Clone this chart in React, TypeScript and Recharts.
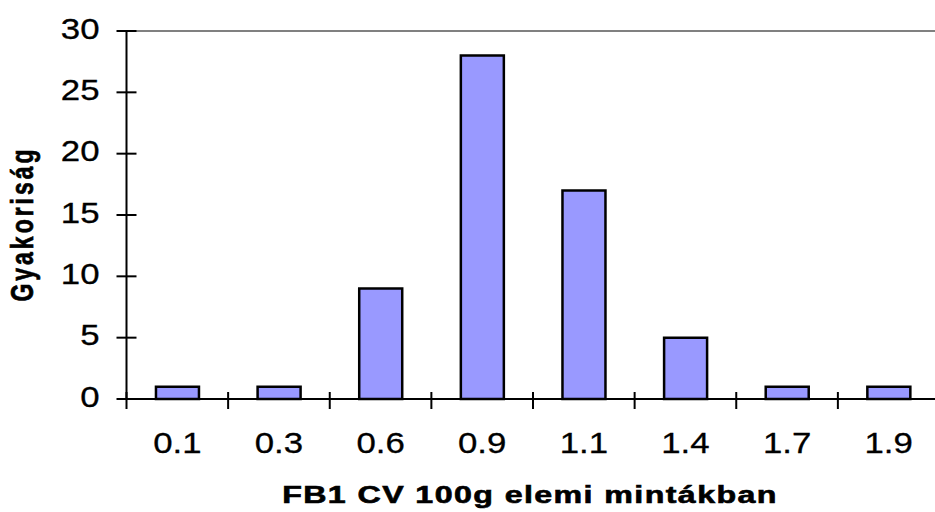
import React from "react";
import { BarChart, Bar, XAxis, YAxis, ReferenceLine } from "recharts";

const categories = ["0.1", "0.3", "0.6", "0.9", "1.1", "1.4", "1.7", "1.9"];
const frequencies = [1, 1, 9, 28, 17, 5, 1, 1];
const yTicks = [0, 5, 10, 15, 20, 25, 30];
const xTitle = "FB1 CV 100g elemi mintákban";
const yTitle = "Gyakoriság";

const data = categories.map((c, i) => ({ cat: c, freq: frequencies[i] }));

const FONT = "'Liberation Sans', Arial, sans-serif";

const YTick = (props: any) => {
  const { x, y, payload } = props;
  return (
    <g>
      <line x1={x - 10} x2={x + 10} y1={y} y2={y} stroke="#000" strokeWidth={2} />
      <text transform={`translate(${x - 27} ${y + 7.5}) scale(1.2 1)`} x={0} y={0} textAnchor="end" fontFamily={FONT} fontSize={29} fill="#000" stroke="#000" strokeWidth={0.3}>
        {payload.value}
      </text>
    </g>
  );
};

const XTick = (props: any) => {
  const { x, y, payload, index, visibleTicksCount } = props;
  const off = payload.offset ?? 50.8;
  const last = index === (visibleTicksCount ?? categories.length) - 1;
  return (
    <g>
      <line x1={x - off} x2={x - off} y1={y - 7} y2={y + 10} stroke="#000" strokeWidth={2} />
      {last && <line x1={x + off} x2={x + off} y1={y - 7} y2={y + 10} stroke="#000" strokeWidth={2} />}
      <text transform={`translate(${x} ${y + 53.7}) scale(1.2 1)`} x={0} y={0} textAnchor="middle" fontFamily={FONT} fontSize={29} fill="#000" stroke="#000" strokeWidth={0.3}>
        {payload.value}
      </text>
    </g>
  );
};

const XLabel = (props: any) => {
  const vb = props.viewBox || { x: 126.5, y: 399, width: 813, height: 113 };
  const cx = vb.x + vb.width / 2 - 3;
  const cy = vb.y + 104;
  return (
    <text transform={`translate(${cx} ${cy}) scale(1.4 1)`} x={0} y={0} textAnchor="middle" fontFamily={FONT} fontWeight="bold" fontSize={23} letterSpacing={1} fill="#000" stroke="#000" strokeWidth={0.6}>
      {xTitle}
    </text>
  );
};

const YLabel = (props: any) => {
  const vb = props.viewBox || { x: 0, y: 31, width: 126.5, height: 368 };
  const cx = vb.x + 33;
  const cy = vb.y + 193;
  return (
    <text transform={`translate(${cx} ${cy}) scale(1.4 1) rotate(-90)`} x={0} y={0} textAnchor="middle" fontFamily={FONT} fontWeight="bold" fontSize={23} letterSpacing={3} fill="#000" stroke="#000" strokeWidth={0.5}>
      {yTitle}
    </text>
  );
};

export default function App() {
  return (
    <div style={{ position: "absolute", left: 0, top: 0, width: 935, height: 512, overflow: "hidden", background: "#fff" }}>
      <BarChart width={945} height={512} data={data} margin={{ top: 31, right: 5.5, bottom: 0, left: 0 }} barCategoryGap="29%">
        <ReferenceLine y={30} stroke="#808080" strokeWidth={2} ifOverflow="extendDomain" />
        <XAxis
          dataKey="cat"
          height={113}
          axisLine={{ stroke: "#000", strokeWidth: 2 }}
          tickLine={false}
          tickSize={0}
          tickMargin={0}
          tick={<XTick />}
          interval={0}
          label={<XLabel />}
        />
        <YAxis
          width={126.5}
          domain={[0, 30]}
          ticks={yTicks}
          interval={0}
          axisLine={{ stroke: "#000", strokeWidth: 2 }}
          tickLine={false}
          tickSize={0}
          tickMargin={0}
          tick={<YTick />}
          label={<YLabel />}
        />
        <Bar dataKey="freq" fill="#9999FF" stroke="#000" strokeWidth={2.5} isAnimationActive={false} />
      </BarChart>
    </div>
  );
}
